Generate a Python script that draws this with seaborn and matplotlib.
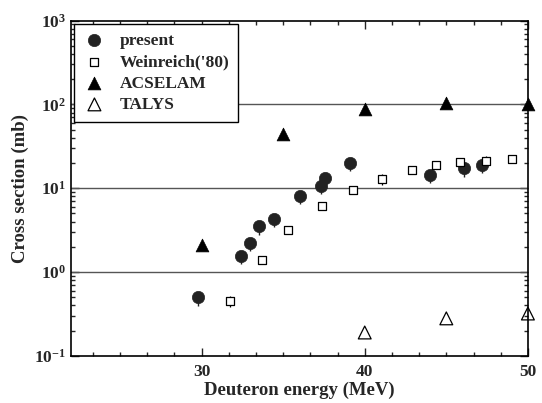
import matplotlib
matplotlib.use("Agg")
import matplotlib.pyplot as plt
import matplotlib.ticker as mticker
import seaborn as sns
import numpy as np

# values
present_e = [29.8, 32.4, 32.95, 33.55, 34.47, 36.05, 37.3, 37.56, 39.09, 43.97, 46.07, 47.2]
present_xs = [0.50, 1.56, 2.2, 3.5, 4.3, 8.0, 10.6, 13.4, 20.0, 14.5, 17.2, 18.9]
present_err = [0.22, 0.2, 0.2, 0.2, 0.2, 0.2, 0.2, 0.2, 0.2, 0.2, 0.2, 0.2]  # relative, lower side

wein_e = [31.73, 33.68, 35.29, 37.4, 39.27, 41.08, 42.87, 44.37, 45.85, 47.44, 49.05]
wein_xs = [0.45, 1.39, 3.16, 6.05, 9.55, 12.9, 16.4, 18.8, 20.5, 21.4, 22.1]
wein_err = [0.15, 0.02, 0.02, 0.02, 0.02, 0.15, 0.02, 0.02, 0.02, 0.12, 0.02]  # relative

acselam_e = [30, 35, 40, 45, 50]
acselam_xs = [2.1, 44.8, 87, 103, 100]

talys_e = [40, 45, 50]
talys_xs = [0.19, 0.28, 0.32]

sns.set_style("ticks")
plt.rcParams['font.family'] = ['Liberation Serif', 'DejaVu Serif']
plt.rcParams['font.weight'] = 'bold'
plt.rcParams['mathtext.fontset'] = 'custom'
plt.rcParams['mathtext.bf'] = 'Liberation Serif:bold'
plt.rcParams['mathtext.rm'] = 'Liberation Serif:bold'

fig = plt.figure(figsize=(5.42, 4.03), dpi=100)
ax = fig.add_axes([0.131, 0.117, 0.843, 0.832])

for yy in [1, 10, 100]:
    ax.axhline(yy, color='#555555', lw=1.0, zorder=1)

# error bars
pe = np.array(present_xs)
pr = np.array(present_err)
ax.errorbar(present_e, present_xs, yerr=[pe * pr, pe * 0.08], fmt='none',
            ecolor='#222222', elinewidth=1.0, capsize=0, zorder=2)
we = np.array(wein_xs)
wr = np.array(wein_err)
ax.errorbar(wein_e, wein_xs, yerr=[we * wr, we * wr], fmt='none',
            ecolor='black', elinewidth=0.9, capsize=0, zorder=2)

sns.scatterplot(x=present_e, y=present_xs, marker='o', s=78, color='#222222',
                edgecolor='#222222', linewidth=0.5, label='present', ax=ax, zorder=3)
sns.scatterplot(x=wein_e, y=wein_xs, marker='s', s=26, color='white',
                edgecolor='black', linewidth=0.9, label="Weinreich('80)", ax=ax, zorder=3)
sns.scatterplot(x=acselam_e, y=acselam_xs, marker='^', s=85, color='black',
                edgecolor='black', linewidth=0.5, label='ACSELAM', ax=ax, zorder=3, clip_on=False)
sns.scatterplot(x=talys_e, y=talys_xs, marker='^', s=85, color='none',
                edgecolor='black', linewidth=0.9, label='TALYS', ax=ax, zorder=3, clip_on=False)

ax.set_yscale('log')
ax.set_xlim(22, 50)
ax.set_ylim(0.1, 1000)

ax.xaxis.set_major_locator(mticker.FixedLocator([30, 40, 50]))
ax.xaxis.set_minor_locator(mticker.MultipleLocator(10 / 6))
ax.yaxis.set_major_locator(mticker.LogLocator(base=10, numticks=10))
ax.yaxis.set_minor_locator(mticker.LogLocator(base=10, subs=np.arange(2, 10), numticks=20))
ax.yaxis.set_major_formatter(mticker.FuncFormatter(lambda v, p: r'$\mathbf{10^{%d}}$' % round(np.log10(v))))
ax.yaxis.set_minor_formatter(mticker.NullFormatter())

ax.tick_params(which='both', direction='in', top=True, right=True, width=1.0, labelsize=12.5)
ax.tick_params(which='major', length=6)
ax.tick_params(which='minor', length=3)
ax.tick_params(axis='x', which='major', pad=6)
for sp in ax.spines.values():
    sp.set_linewidth(1.2)
    sp.set_color('black')

ax.set_xlabel('Deuteron energy (MeV)', fontsize=13.5, fontweight='bold', labelpad=1)
ax.set_ylabel('Cross section (mb)', fontsize=13.5, fontweight='bold', labelpad=4)

leg = ax.legend(loc='upper left', bbox_to_anchor=(0, 1), borderaxespad=0.2,
                fontsize=12.5, frameon=True, fancybox=False, handletextpad=0.8,
                labelspacing=0.3, borderpad=0.5, handlelength=1.3)
leg.get_frame().set_edgecolor('black')
leg.get_frame().set_linewidth(1.0)
leg.get_frame().set_alpha(1)
leg.set_zorder(10)

fig.savefig('out.png', dpi=100)
